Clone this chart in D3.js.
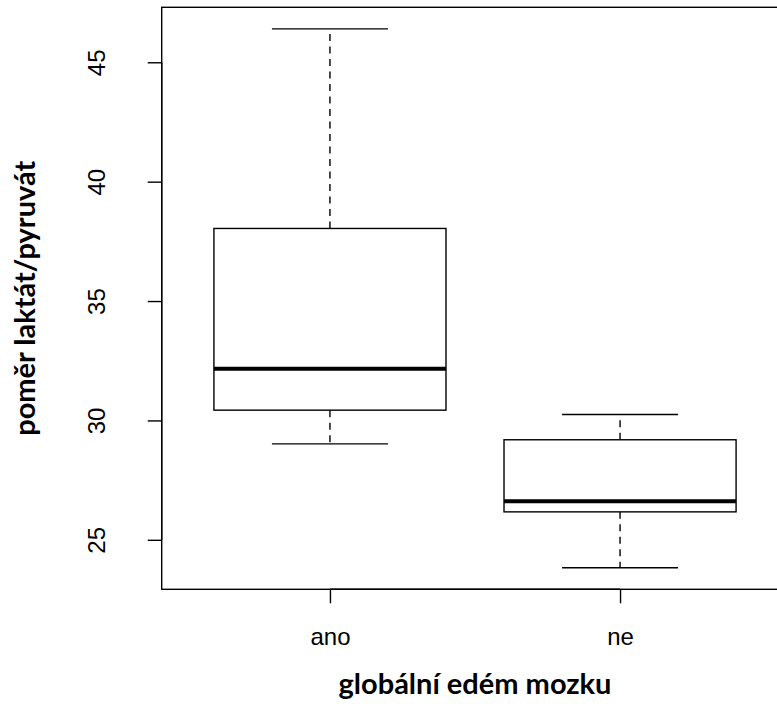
<!DOCTYPE html>
<html>
<head>
<meta charset="utf-8">
<script src="https://cdn.jsdelivr.net/npm/d3@7"></script>
<style>
  body { margin: 0; background: #fff; }
  svg { display: block; }
</style>
</head>
<body>
<svg id="chart"></svg>
<script>
// box statistics
var categories = ['ano', 'ne'];
var lowerWhisker = [29.02, 23.83];
var q1 = [30.43, 26.17];
var medians = [32.16, 26.62];
var q3 = [38.04, 29.19];
var upperWhisker = [46.40, 30.25];
var yTicks = [25, 30, 35, 40, 45];

var width = 777;
var height = 704;
var margin = { top: 7.3, left: 161.7, bottom: 114.7 };
var plotRight = 788.3; // plot box runs off the right edge

var svg = d3.select('#chart')
  .attr('width', width)
  .attr('height', height);

// R style: extend range by 4% each side
var lo = d3.min(lowerWhisker), hi = d3.max(upperWhisker);
var pad = (hi - lo) * 0.04;
var y = d3.scaleLinear()
  .domain([lo - pad, hi + pad])
  .range([height - margin.bottom, margin.top]);

var n = categories.length;
var xpad = n * 0.04;
var x = d3.scaleLinear()
  .domain([0.5 - xpad, n + 0.5 + xpad])
  .range([margin.left, plotRight]);

var boxes = categories.map(function (c, i) {
  return { name: c, pos: i + 1, lw: lowerWhisker[i], q1: q1[i], med: medians[i], q3: q3[i], uw: upperWhisker[i] };
});

var halfBox = (x(1.4) - x(1)) ; // boxwex 0.8
var halfCap = halfBox / 2;

var g = svg.append('g');

// whiskers
g.selectAll('.whisk-up').data(boxes).enter().append('line')
  .attr('x1', function (d) { return x(d.pos); })
  .attr('x2', function (d) { return x(d.pos); })
  .attr('y1', function (d) { return y(d.q3); })
  .attr('y2', function (d) { return y(d.uw); })
  .attr('stroke', '#000').attr('stroke-width', 1.4)
  .attr('stroke-dasharray', '7,5.5');

g.selectAll('.whisk-down').data(boxes).enter().append('line')
  .attr('x1', function (d) { return x(d.pos); })
  .attr('x2', function (d) { return x(d.pos); })
  .attr('y1', function (d) { return y(d.q1); })
  .attr('y2', function (d) { return y(d.lw); })
  .attr('stroke', '#000').attr('stroke-width', 1.4)
  .attr('stroke-dasharray', '7,5.5');

// staples
['uw', 'lw'].forEach(function (k) {
  g.selectAll('.cap-' + k).data(boxes).enter().append('line')
    .attr('x1', function (d) { return x(d.pos) - halfCap; })
    .attr('x2', function (d) { return x(d.pos) + halfCap; })
    .attr('y1', function (d) { return y(d[k]); })
    .attr('y2', function (d) { return y(d[k]); })
    .attr('stroke', '#000').attr('stroke-width', 1.4);
});

// boxes
g.selectAll('.box').data(boxes).enter().append('rect')
  .attr('x', function (d) { return x(d.pos) - halfBox; })
  .attr('width', halfBox * 2)
  .attr('y', function (d) { return y(d.q3); })
  .attr('height', function (d) { return y(d.q1) - y(d.q3); })
  .attr('fill', 'white')
  .attr('stroke', '#000').attr('stroke-width', 1.4);

// medians
g.selectAll('.med').data(boxes).enter().append('line')
  .attr('x1', function (d) { return x(d.pos) - halfBox; })
  .attr('x2', function (d) { return x(d.pos) + halfBox; })
  .attr('y1', function (d) { return y(d.med); })
  .attr('y2', function (d) { return y(d.med); })
  .attr('stroke', '#000').attr('stroke-width', 4);

// plot frame
svg.append('rect')
  .attr('x', margin.left)
  .attr('y', margin.top)
  .attr('width', plotRight - margin.left)
  .attr('height', height - margin.bottom - margin.top)
  .attr('fill', 'none')
  .attr('stroke', '#000').attr('stroke-width', 1.4);

// y axis
var yAxis = svg.append('g')
  .attr('transform', 'translate(' + margin.left + ',0)')
  .call(d3.axisLeft(y).tickValues(yTicks).tickSize(14).tickSizeOuter(0).tickFormat(d3.format('d')));
yAxis.select('.domain').remove();
yAxis.selectAll('.tick line').attr('stroke', '#000').attr('stroke-width', 1.4);
yAxis.selectAll('.tick text')
  .attr('x', null).attr('dy', null)
  .attr('transform', 'translate(-57,0) rotate(-90)')
  .attr('text-anchor', 'middle')
  .attr('font-family', '"Liberation Sans", Arial, sans-serif')
  .attr('font-size', 24)
  .attr('fill', '#000');
yAxis.append('line')
  .attr('x1', 0).attr('x2', 0)
  .attr('y1', y(d3.min(yTicks))).attr('y2', y(d3.max(yTicks)))
  .attr('stroke', '#000').attr('stroke-width', 1.4);

// x axis
var xAxis = svg.append('g')
  .attr('transform', 'translate(0,' + (height - margin.bottom) + ')')
  .call(d3.axisBottom(x).tickValues(d3.range(1, n + 1)).tickSize(14).tickSizeOuter(0)
    .tickFormat(function (d) { return categories[d - 1]; }));
xAxis.select('.domain').remove();
xAxis.selectAll('.tick line').attr('stroke', '#000').attr('stroke-width', 1.4);
xAxis.selectAll('.tick text')
  .attr('y', 56).attr('dy', null)
  .attr('font-family', '"Liberation Sans", Arial, sans-serif')
  .attr('font-size', 24)
  .attr('fill', '#000');
xAxis.append('line')
  .attr('x1', x(1)).attr('x2', x(n))
  .attr('y1', 0).attr('y2', 0)
  .attr('stroke', '#000').attr('stroke-width', 1.4);

// axis titles
var midY = (margin.top + height - margin.bottom) / 2;
svg.append('text')
  .attr('transform', 'translate(35,' + midY + ') rotate(-90)')
  .attr('text-anchor', 'middle')
  .attr('font-family', 'Lato, "Open Sans", sans-serif')
  .attr('font-weight', 'bold')
  .attr('font-size', 29)
  .text('poměr laktát/pyruvát');

svg.append('text')
  .attr('x', (x(1) + x(n)) / 2)
  .attr('y', 694)
  .attr('text-anchor', 'middle')
  .attr('font-family', 'Lato, "Open Sans", sans-serif')
  .attr('font-weight', 'bold')
  .attr('font-size', 29)
  .text('globální edém mozku');
</script>
</body>
</html>
